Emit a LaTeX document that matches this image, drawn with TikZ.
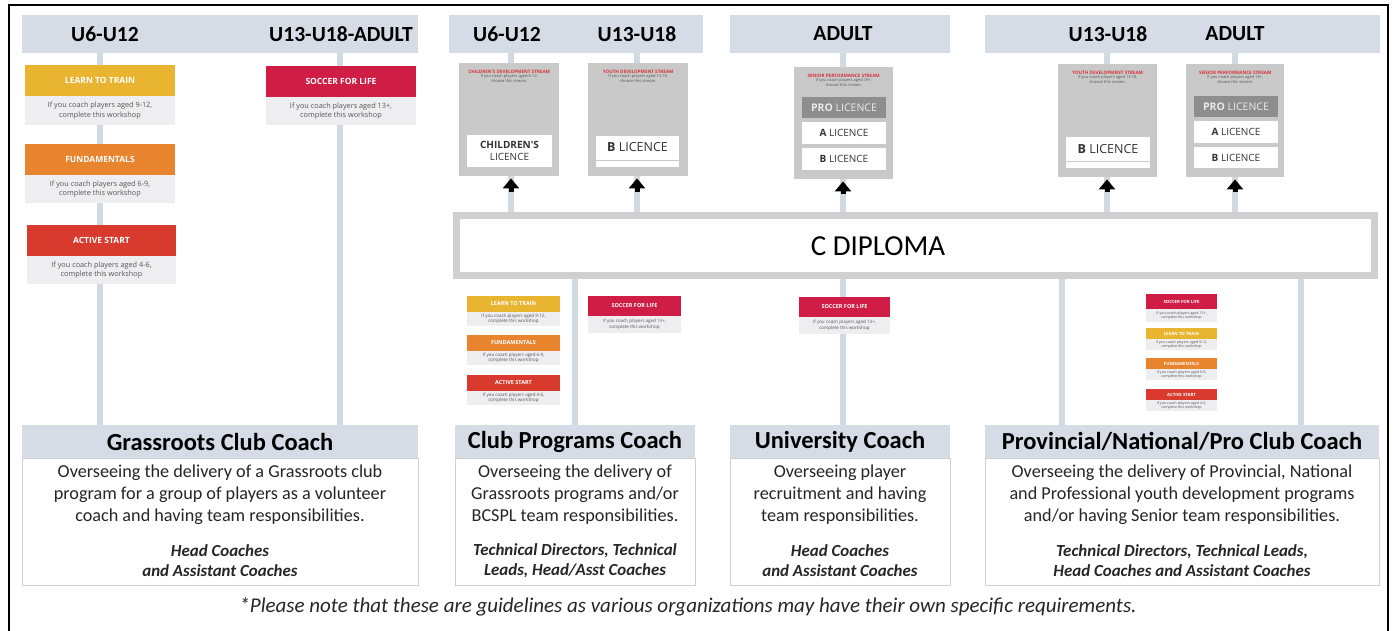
\documentclass[tikz,border=0pt]{standalone}
\usepackage{fontspec}
\setmainfont{Carlito}
\newfontfamily\cardfont{Open Sans}
\usetikzlibrary{arrows.meta}
\pgfdeclarelayer{bg}
\pgfsetlayers{bg,main}
\definecolor{hdrcol}{HTML}{D6DCE5}
\definecolor{linecol}{HTML}{D3D9E1}
\definecolor{dipcol}{HTML}{D0D0D0}
\definecolor{cardgrey}{HTML}{C9C9C9}
\definecolor{wbg}{HTML}{EEEEF0}
\definecolor{wtxt}{HTML}{555555}
\definecolor{lttcol}{HTML}{E9B42F}
\definecolor{fundcol}{HTML}{E8832E}
\definecolor{ascol}{HTML}{D93A2E}
\definecolor{sflcol}{HTML}{CF1D45}
\definecolor{procol}{HTML}{8E8E8E}
\definecolor{redtitle}{HTML}{D8323A}
\definecolor{bordcol}{HTML}{D0D0D0}
\definecolor{lictxt}{HTML}{333333}
\newcommand\fsz[2]{\fontsize{#1}{#2}\selectfont}
\newcommand\wshop[9]{%
  \node[wt, fill=#7, minimum width=#4pt, minimum height=#5pt, font=\wtf] (#1) at (#2,#3) {#8};
  \node[wtx, minimum width=#4pt, minimum height=#6pt, font=\wxf] (#1-t) at (#1.south) {#9};}
\newcommand\lcard[7]{%
  \node[card, minimum width=#4pt, minimum height=#5pt] (#1) at (#2,#3) {};
  \node[ctitle] (#1-h) at ([yshift=-9pt]#1.north) {#6};
  \node[csub] (#1-s) at (#1-h.south) {#7};}
\newcommand\rolebox[6]{%
  \node[rb, minimum width=#3pt] (#1-b) at (#2,521.5) {};
  \node[rh, minimum width=#3pt] (#1) at (#2,441.5) {#4};
  \node[rt] (#1-d) at (#2,495) {#5};
  \node[rr] (#1-r) at (#2,561) {#6};}
\tikzset{
  hdr/.style={fill=hdrcol, inner sep=0pt, minimum height=38pt},
  hlab/.style={font=\fsz{21.6}{23}\bfseries, inner sep=0pt},
  vline/.style={draw=linecol, line width=6pt},
  wt/.style={anchor=north west, inner sep=0pt, outer sep=0pt, text=white, align=center},
  wtx/.style={anchor=north, inner sep=0pt, outer sep=0pt, fill=wbg, text=wtxt, align=center},
  card/.style={fill=cardgrey, inner sep=0pt, anchor=north west},
  ctitle/.style={text=redtitle, font=\cardfont\fsz{4.6}{5}\bfseries, inner sep=0pt},
  csub/.style={text=wtxt, font=\cardfont\fsz{4}{5}, inner sep=0.5pt, anchor=north, align=center},
  lic/.style={fill=white, inner sep=0pt, text=lictxt, font=\cardfont\fsz{10}{11.5}, align=center},
  biglic/.style={lic, font=\cardfont\fsz{12.5}{14}},
  prolic/.style={fill=procol, inner sep=0pt, text=white!92!black, font=\cardfont\fsz{10.5}{12}, align=center},
  arr/.style={-{Triangle[width=16pt,length=10pt]}, line width=5pt, shorten >=2pt, black},
  dip/.style={draw=dipcol, line width=7pt, fill=white, inner sep=0pt},
  rh/.style={fill=hdrcol, inner sep=0pt, minimum height=33pt, font=\fsz{24.5}{26}\bfseries},
  rb/.style={draw=bordcol, line width=0.8pt, fill=white, minimum height=127pt, inner sep=0pt},
  rt/.style={font=\fsz{18.2}{22}, align=center, inner sep=0pt, text=black!85},
  rr/.style={font=\fsz{16.9}{20}\bfseries\itshape, align=center, inner sep=0pt, text=black!85},
}
\begin{document}
\begin{tikzpicture}[x=1pt,y=-1pt]
\useasboundingbox (0,0) rectangle (1393,630);
% outer frame
\draw[line width=1.6pt] (9,632) -- (9,5) -- (1388,5) -- (1388,632);

% top header bars
\node[hdr, minimum width=396pt] (h1) at (220,34) {};
\node[hdr, minimum width=254pt] (h2) at (576,34) {};
\node[hdr, minimum width=220pt] (h3) at (840,34) {};
\node[hdr, minimum width=395pt] (h4) at (1182.5,34) {};
\node[hlab] (h1a) at (105,34) {U6-U12};
\node[hlab] (h1b) at (341,34) {U13-U18-ADULT};
\node[hlab] (h2a) at (507,34) {U6-U12};
\node[hlab] (h2b) at (637,34) {U13-U18};
\node[hlab] (h3a) at (843,34) {ADULT};
\node[hlab] (h4a) at (1108,34) {U13-U18};
\node[hlab] (h4b) at (1235,34) {ADULT};

% left workshops
\begin{scope}
\def\wtf{\cardfont\fsz{8.5}{10}\bfseries}
\def\wxf{\cardfont\fsz{7.3}{9.5}}
\wshop{ltt}{25}{65}{150}{31}{29}{lttcol}{LEARN TO TRAIN}{If you coach players aged 9-12,\\complete this workshop}
\wshop{fund}{25}{144}{150}{31}{28}{fundcol}{FUNDAMENTALS}{If you coach players aged 6-9,\\complete this workshop}
\wshop{as}{27}{225}{149}{31}{28}{ascol}{ACTIVE START}{If you coach players aged 4-6,\\complete this workshop}
\wshop{sfl}{266}{66}{150}{31}{28}{sflcol}{SOCCER FOR LIFE}{If you coach players aged 13+,\\complete this workshop}
\end{scope}

% licence cards
\lcard{c1}{459}{63}{100}{113}{CHILDREN'S DEVELOPMENT STREAM}{If you coach players aged 5-12,\\choose this stream.}
\node[lic, minimum width=85pt, minimum height=32pt] (c1l) at (509.5,151) {\textbf{CHILDREN'S}\\LICENCE};
\lcard{c2}{588}{63}{100}{113}{YOUTH DEVELOPMENT STREAM}{If you coach players aged 13-18,\\choose this stream.}
\node[biglic, minimum width=83pt, minimum height=24pt] (c2l) at (637.5,147.5) {\textbf{B} LICENCE};
\node[lic, minimum width=83pt, minimum height=6pt] (c2m) at (637.5,164) {};
\lcard{c3}{794}{67}{99}{112}{SENIOR PERFORMANCE STREAM}{If you coach players aged 18+,\\choose this stream.}
\node[prolic, minimum width=84pt, minimum height=21pt] (c3p) at (844,107.5) {\textbf{PRO} LICENCE};
\node[lic, minimum width=84pt, minimum height=22pt] (c3a) at (844,133) {\textbf{A} LICENCE};
\node[lic, minimum width=84pt, minimum height=22pt] (c3b) at (844,159) {\textbf{B} LICENCE};
\lcard{c4}{1058}{64}{99}{113}{YOUTH DEVELOPMENT STREAM}{If you coach players aged 13-18,\\choose this stream.}
\node[biglic, minimum width=84pt, minimum height=24pt] (c4l) at (1108,149) {\textbf{B} LICENCE};
\node[lic, minimum width=84pt, minimum height=6pt] (c4m) at (1108,165) {};
\lcard{c5}{1186}{64}{98}{113}{SENIOR PERFORMANCE STREAM}{If you coach players aged 18+,\\choose this stream.}
\node[prolic, minimum width=84pt, minimum height=21pt] (c5p) at (1236,106.5) {\textbf{PRO} LICENCE};
\node[lic, minimum width=84pt, minimum height=22pt] (c5a) at (1236,132) {\textbf{A} LICENCE};
\node[lic, minimum width=84pt, minimum height=21pt] (c5b) at (1236,157.5) {\textbf{B} LICENCE};

% C diploma
\node[dip, minimum width=918pt, minimum height=60pt] (dip) at (915.5,245.5) {};
\node[font=\fsz{29}{31}, inner sep=0pt] (dipt) at (878,246) {C DIPLOMA};

% arrows
\coordinate (a1) at (511,192);
\coordinate (a2) at (637,192);
\coordinate (a3) at (843,194);
\coordinate (a4) at (1107,192);
\coordinate (a5) at (1235,192);
\draw[arr] (a1) -- (a1 |- c1.south);
\draw[arr] (a2) -- (a2 |- c2.south);
\draw[arr] (a3) -- (a3 |- c3.south);
\draw[arr] (a4) -- (a4 |- c4.south);
\draw[arr] (a5) -- (a5 |- c5.south);

% lower workshops
\begin{scope}
\def\wtf{\cardfont\fsz{5.5}{6}\bfseries}
\def\wxf{\cardfont\fsz{4.5}{5.5}}
\wshop{ltt2}{467}{296}{93}{16}{14}{lttcol}{LEARN TO TRAIN}{If you coach players aged 9-12,\\complete this workshop}
\wshop{fund2}{467}{335}{93}{16}{14}{fundcol}{FUNDAMENTALS}{If you coach players aged 6-9,\\complete this workshop}
\wshop{as2}{467}{375}{93}{16}{14}{ascol}{ACTIVE START}{If you coach players aged 4-6,\\complete this workshop}
\wshop{sfl2}{588}{296}{93}{20}{17}{sflcol}{SOCCER FOR LIFE}{If you coach players aged 13+,\\complete this workshop}
\wshop{sfl3}{799}{297}{91}{20}{17}{sflcol}{SOCCER FOR LIFE}{If you coach players aged 13+,\\complete this workshop}
\end{scope}
\begin{scope}
\def\wtf{\cardfont\fsz{4.3}{5}\bfseries}
\def\wxf{\cardfont\fsz{3.6}{4.4}}
\wshop{sfl4}{1146}{294}{71}{15}{13}{sflcol}{SOCCER FOR LIFE}{If you coach players aged 13+,\\complete this workshop}
\wshop{ltt4}{1146}{328}{71}{11}{11}{lttcol}{LEARN TO TRAIN}{If you coach players aged 9-12,\\complete this workshop}
\wshop{fund4}{1146}{358}{71}{11}{11}{fundcol}{FUNDAMENTALS}{If you coach players aged 6-9,\\complete this workshop}
\wshop{as4}{1146}{389}{71}{11}{11}{ascol}{ACTIVE START}{If you coach players aged 4-6,\\complete this workshop}
\end{scope}

% role boxes
\rolebox{g}{220}{396}{Grassroots Club Coach}{Overseeing the delivery of a Grassroots club\\program for a group of players as a volunteer\\coach and having team responsibilities.}{Head Coaches\\and Assistant Coaches}
\rolebox{cp}{575}{240}{Club Programs Coach}{Overseeing the delivery of\\Grassroots programs and/or\\BCSPL team responsibilities.}{Technical Directors, Technical\\Leads, Head/Asst Coaches}
\rolebox{u}{840}{220}{University Coach}{Overseeing player\\recruitment and having\\team responsibilities.}{Head Coaches\\and Assistant Coaches}
\rolebox{p}{1182}{394}{Provincial/National/Pro Club Coach}{Overseeing the delivery of Provincial, National\\and Professional youth development programs\\and/or having Senior team responsibilities.}{Technical Directors, Technical Leads,\\Head Coaches and Assistant Coaches}

\node[font=\fsz{21}{23}\itshape, inner sep=0pt, text=black!85] (note) at (688,607) {*Please note that these are guidelines as various organizations may have their own specific requirements.};

% connector lines
\coordinate (l1) at (100,0);
\coordinate (l2) at (340,0);
\coordinate (l3) at (511,0);
\coordinate (l4) at (637,0);
\coordinate (l5) at (843,0);
\coordinate (l6) at (1107,0);
\coordinate (l7) at (1235,0);
\coordinate (l8) at (575,0);
\coordinate (l9) at (1062,0);
\coordinate (l10) at (1301,0);
\begin{pgfonlayer}{bg}
\draw[vline] (l1 |- h1.south) -- (l1 |- g.north);
\draw[vline] (l2 |- h1.south) -- (l2 |- g.north);
\draw[vline] (l3 |- h2.south) -- (l3 |- dip.north);
\draw[vline] (l4 |- h2.south) -- (l4 |- dip.north);
\draw[vline] (l5 |- h3.south) -- (l5 |- u.north);
\draw[vline] (l6 |- h4.south) -- (l6 |- dip.north);
\draw[vline] (l7 |- h4.south) -- (l7 |- dip.north);
\draw[vline] (l8 |- dip.south) -- (l8 |- cp.north);
\draw[vline] (l9 |- dip.south) -- (l9 |- p.north);
\draw[vline] (l10 |- dip.south) -- (l10 |- p.north);
\end{pgfonlayer}
\end{tikzpicture}
\end{document}
